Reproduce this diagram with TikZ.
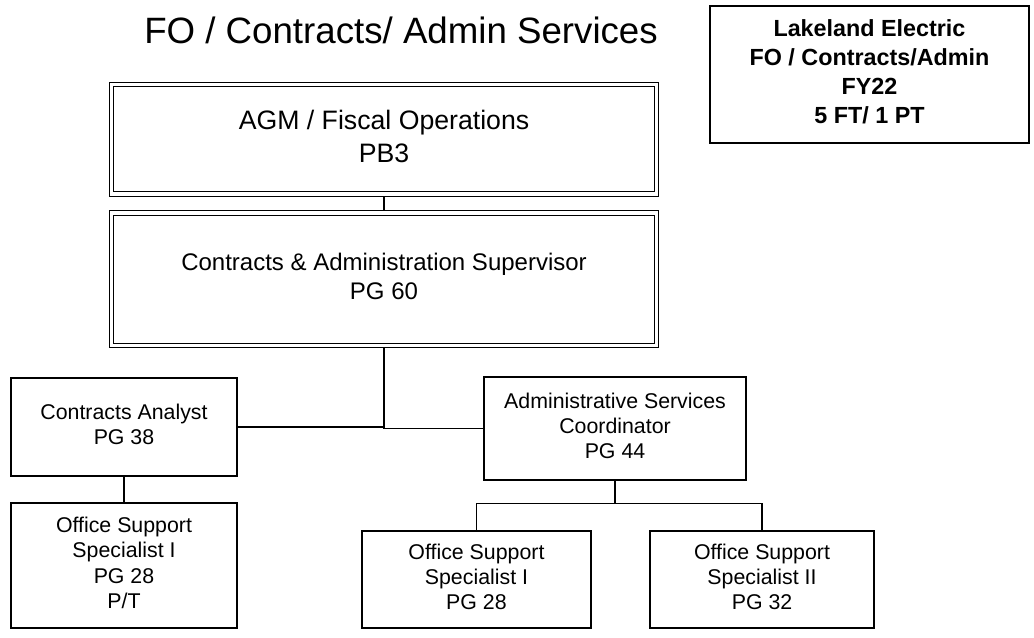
\documentclass[tikz,border=0pt]{standalone}
\usepackage{fontspec}
\setmainfont{Liberation Sans}
\usepackage{tikz}
\usetikzlibrary{positioning}
\tikzset{
    post/.style={
           rectangle,
           draw=black,
           line width=0.9pt,
           inner sep=2pt,
           text centered,
           font=\fontsize{16}{19.1}\selectfont,
           },
    head/.style={
           post,
           double,
           double distance=2.6pt,
           outer sep=2.2pt,
           minimum width=408.75pt,
           },
    note/.style={
           post,
           line width=2.2pt,
           minimum width=239.25pt,
           minimum height=102.75pt,
           font=\bfseries\fontsize{17.5}{21.75}\selectfont,
           },
    elbow/.style={to path={-| (\tikztotarget)}},
}

\begin{document}
\begin{tikzpicture}[line width=0.9pt]
\useasboundingbox (0,0) rectangle (775.5pt,-478.5pt);
\node[anchor=base,font=\fontsize{27.5}{33}\selectfont](title) at (300.75pt,-32.5pt){FO / Contracts/ Admin Services};
\node[note](fy) at (652.1pt,-55.9pt){
  \begin{tabular}{c}
    Lakeland Electric\\
    FO / Contracts/Admin\\
    FY22\\
    5 FT/ 1 PT
  \end{tabular}
};
\node[head,minimum height=82.1pt,font=\fontsize{20}{24.75}\selectfont](agm) at (288pt,-104.4pt){
  \begin{tabular}{c}
    AGM / Fiscal Operations\\
    PB3
  \end{tabular}
};
\node[head,below of=agm,node distance=105pt,minimum height=99.4pt,font=\fontsize{18}{21.75}\selectfont](sup){
  \begin{tabular}{c}
    Contracts \& Administration Supervisor\\
    PG 60
  \end{tabular}
};
\node[post,below of=sup,node distance=110.8pt,xshift=-195pt,minimum width=169.5pt,minimum height=73.5pt](analyst){
  \begin{tabular}{c}
    Contracts Analyst\\
    PG 38
  \end{tabular}
};
\node[post,below of=sup,node distance=111.9pt,xshift=173.25pt,minimum width=196.5pt,minimum height=77.25pt](coord){
  \begin{tabular}{c}
    Administrative Services\\
    Coordinator\\
    PG 44
  \end{tabular}
};
\node[post,below of=analyst,node distance=103.9pt,minimum width=169.5pt,minimum height=93.75pt](osspt){
  \begin{tabular}{c}
    Office Support\\
    Specialist I\\
    PG 28\\
    P/T
  \end{tabular}
};
\node[post,below of=coord,node distance=113.25pt,xshift=-103.9pt,minimum width=171.75pt,minimum height=72.75pt](ossone){
  \begin{tabular}{c}
    Office Support\\
    Specialist I\\
    PG 28
  \end{tabular}
};
\node[post,below of=coord,node distance=113.25pt,xshift=110.25pt,minimum width=168pt,minimum height=72.75pt](osstwo){
  \begin{tabular}{c}
    Office Support\\
    Specialist II\\
    PG 32
  \end{tabular}
};
\coordinate[below=17.25pt of coord.south](fork);
\path (agm) edge (sup)
      (analyst) edge[elbow] (sup)
      (coord) edge[elbow] (sup)
      (analyst) edge (osspt)
      (coord.south) edge (fork)
      (fork) edge[elbow] (ossone)
      (fork) edge[elbow] (osstwo);
\end{tikzpicture}
\end{document}
